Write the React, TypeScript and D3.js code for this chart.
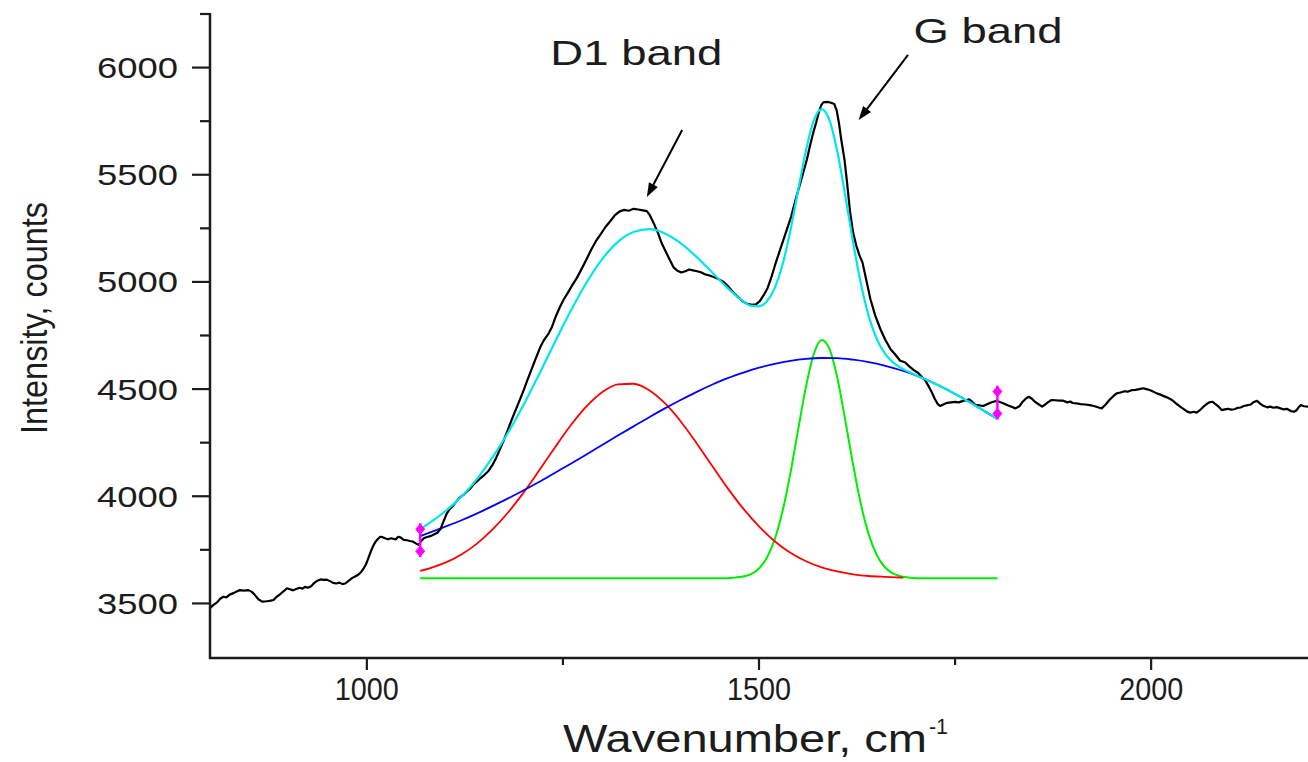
import React from "react";
import * as d3 from "d3";

// ---------- measured spectrum (black) ----------
const rawWavenumber = [
  800, 804, 809, 813, 817, 821, 825, 830, 834, 838, 843, 849, 853, 857, 862, 867, 872, 876, 881, 885,
  890, 894, 898, 902, 906, 910, 914, 918, 921, 925, 929, 933, 937, 941, 945, 949, 953, 957, 961, 965,
  969, 973, 977, 981, 985, 989, 993, 996, 999, 1002, 1005, 1008, 1011, 1014, 1017, 1020, 1024, 1027, 1031, 1034,
  1037, 1040, 1043, 1047, 1051, 1055, 1059, 1063, 1066, 1069, 1073, 1077, 1082, 1086, 1090, 1094, 1098, 1102, 1106, 1110,
  1114, 1118, 1123, 1127, 1132, 1136, 1140, 1145, 1150, 1155, 1160, 1165, 1170, 1175, 1180, 1185, 1190, 1195, 1200, 1205,
  1210, 1215, 1221, 1226, 1231, 1236, 1241, 1246, 1251, 1256, 1262, 1268, 1274, 1280, 1286, 1292, 1298, 1304, 1310, 1316,
  1322, 1328, 1334, 1340, 1346, 1352, 1357, 1361, 1366, 1371, 1376, 1381, 1386, 1391, 1396, 1401, 1406, 1411, 1416, 1421,
  1426, 1431, 1437, 1443, 1449, 1455, 1461, 1467, 1473, 1479, 1485, 1491, 1496, 1501, 1506, 1511, 1516, 1521, 1526, 1531,
  1536, 1541, 1546, 1551, 1556, 1561, 1565, 1569, 1573, 1576, 1579, 1582, 1587, 1592, 1596, 1599, 1602, 1605, 1609, 1612,
  1616, 1620, 1624, 1628, 1632, 1637, 1642, 1648, 1655, 1661, 1668, 1674, 1680, 1686, 1692, 1697, 1703, 1708, 1712, 1716,
  1720, 1724, 1728, 1731, 1735, 1740, 1745, 1750, 1755, 1760, 1764, 1768, 1772, 1776, 1781, 1786, 1790, 1795, 1799, 1803,
  1807, 1812, 1817, 1822, 1827, 1832, 1836, 1840, 1844, 1848, 1852, 1857, 1861, 1865, 1869, 1873, 1878, 1883, 1888, 1893,
  1897, 1900, 1905, 1910, 1916, 1922, 1928, 1933, 1937, 1942, 1947, 1952, 1956, 1961, 1966, 1970, 1975, 1980, 1985, 1990,
  1994, 1998, 2003, 2007, 2012, 2017, 2022, 2027, 2032, 2037, 2042, 2046, 2050, 2054, 2058, 2061, 2065, 2070, 2074, 2078,
  2082, 2086, 2090, 2094, 2098, 2102, 2106, 2110, 2114, 2118, 2122, 2127, 2131, 2135, 2139, 2143, 2148, 2152, 2156, 2160,
  2165, 2169, 2173, 2178, 2182, 2185, 2188, 2191, 2195, 2200,
];
const rawIntensity = [
  3478, 3492, 3505, 3522, 3531, 3528, 3541, 3548, 3556, 3562, 3560, 3562, 3555, 3540, 3518, 3508, 3510, 3512, 3516, 3531,
  3545, 3557, 3570, 3566, 3561, 3567, 3573, 3569, 3577, 3573, 3580, 3596, 3606, 3612, 3610, 3611, 3604, 3596, 3593, 3597,
  3590, 3594, 3606, 3618, 3626, 3634, 3648, 3664, 3683, 3712, 3742, 3768, 3788, 3800, 3811, 3809, 3803, 3799, 3804, 3801,
  3799, 3811, 3808, 3796, 3795, 3791, 3788, 3779, 3773, 3790, 3805, 3810, 3815, 3823, 3830, 3848, 3885, 3920, 3942, 3956,
  3975, 3992, 4006, 4020, 4037, 4055, 4068, 4085, 4100, 4118, 4145, 4180, 4222, 4265, 4312, 4360, 4405, 4450, 4495, 4545,
  4592, 4640, 4695, 4730, 4755, 4790, 4840, 4882, 4918, 4948, 4985, 5020, 5062, 5105, 5150, 5190, 5222, 5255, 5282, 5310,
  5328, 5336, 5332, 5341, 5338, 5334, 5330, 5310, 5272, 5230, 5180, 5142, 5105, 5068, 5052, 5044, 5050, 5058, 5054, 5050,
  5045, 5036, 5030, 5022, 5012, 5000, 4978, 4952, 4930, 4910, 4898, 4893, 4895, 4910, 4938, 4972, 5025, 5085, 5140, 5195,
  5250, 5305, 5375, 5440, 5505, 5570, 5635, 5694, 5745, 5787, 5822, 5838, 5840, 5836, 5830, 5801, 5740, 5661, 5570, 5474,
  5330, 5230, 5170, 5125, 5090, 5005, 4920, 4845, 4778, 4730, 4685, 4660, 4632, 4625, 4605, 4590, 4575, 4555, 4540, 4515,
  4488, 4455, 4430, 4421, 4428, 4436, 4438, 4440, 4438, 4445, 4448, 4452, 4440, 4426, 4424, 4421, 4428, 4436, 4441, 4445,
  4440, 4433, 4425, 4418, 4410, 4420, 4440, 4455, 4464, 4455, 4440, 4428, 4418, 4428, 4440, 4449, 4448, 4446, 4446, 4438,
  4442, 4435, 4433, 4430, 4428, 4425, 4420, 4414, 4410, 4428, 4450, 4468, 4480, 4484, 4490, 4488, 4495, 4496, 4500, 4504,
  4500, 4496, 4488, 4480, 4474, 4466, 4458, 4448, 4432, 4418, 4405, 4395, 4390, 4394, 4390, 4398, 4412, 4428, 4438, 4441,
  4430, 4418, 4402, 4405, 4408, 4404, 4406, 4412, 4414, 4421, 4424, 4428, 4440, 4445, 4432, 4422, 4415, 4418, 4413, 4416,
  4410, 4405, 4408, 4398, 4394, 4400, 4415, 4425, 4420, 4418,
];

// ---------- cumulative fit (cyan) ----------
const fitWavenumber = [
  1068, 1080, 1100, 1120, 1140, 1160, 1180, 1200, 1220, 1240, 1260, 1280, 1300, 1320, 1340, 1360, 1380, 1400, 1420, 1440,
  1460, 1470, 1480, 1490, 1500, 1510, 1520, 1530, 1540, 1550, 1560, 1570, 1580, 1590, 1600, 1610, 1620, 1630, 1640, 1650,
  1660, 1670, 1680, 1700, 1720, 1740, 1760, 1780, 1800, 1804,
];
const fitIntensity = [
  3848, 3876, 3930, 3996, 4079, 4180, 4296, 4428, 4572, 4721, 4865, 4996, 5106, 5187, 5233, 5246, 5226, 5181, 5118, 5045,
  4971, 4938, 4909, 4888, 4886, 4909, 4971, 5081, 5239, 5429, 5616, 5754, 5806, 5753, 5606, 5402, 5184, 4990, 4839, 4735,
  4669, 4627, 4601, 4565, 4533, 4497, 4457, 4414, 4370, 4362,
];

// ---------- broad background band (blue) ----------
const broadWavenumber = [
  1068, 1080, 1100, 1120, 1140, 1160, 1180, 1200, 1220, 1240, 1260, 1280, 1300, 1320, 1340, 1360, 1380, 1400, 1420, 1440,
  1460, 1480, 1500, 1520, 1540, 1560, 1580, 1600, 1620, 1640, 1660, 1680, 1700, 1720, 1740, 1760, 1780, 1800, 1804,
];
const broadIntensity = [
  3814, 3830, 3858, 3887, 3919, 3954, 3990, 4028, 4068, 4110, 4152, 4195, 4239, 4283, 4326, 4369, 4410, 4449, 4486, 4520,
  4551, 4577, 4600, 4618, 4632, 4641, 4645, 4644, 4637, 4626, 4610, 4589, 4564, 4533, 4497, 4457, 4414, 4370, 4362,
];

// ---------- D1 band (red) ----------
const d1Wavenumber = [
  1068, 1080, 1100, 1120, 1140, 1160, 1180, 1200, 1220, 1240, 1260, 1280, 1300, 1320, 1340, 1360, 1380, 1400, 1420, 1440,
  1460, 1480, 1500, 1520, 1540, 1560, 1580, 1600, 1620, 1640, 1660, 1680, 1684,
];
const d1Intensity = [
  3652, 3664, 3690, 3727, 3778, 3844, 3924, 4018, 4122, 4229, 4331, 4419, 4485, 4522, 4525, 4495, 4434, 4350, 4250, 4143,
  4038, 3942, 3859, 3790, 3736, 3697, 3668, 3649, 3636, 3628, 3624, 3621, 3620,
];

// ---------- G band (green) ----------
const gWavenumber = [
  1068, 1460, 1470, 1480, 1490, 1500, 1510, 1520, 1530, 1540, 1550, 1560, 1570, 1580, 1590, 1600, 1610, 1620, 1630, 1640,
  1650, 1660, 1670, 1680, 1690, 1700, 1804,
];
const gIntensity = [
  3618, 3618, 3621, 3626, 3637, 3663, 3713, 3799, 3930, 4107, 4313, 4514, 4665, 4729, 4686, 4549, 4355, 4147, 3962, 3821,
  3727, 3671, 3641, 3627, 3621, 3618, 3618,
];

// ---------- fit range markers, axes, annotations ----------
const rangeMarkerWavenumber = [1068, 1804];
const rangeMarkerIntensity = [3795, 4437];

const xMajorTicks = [1000, 1500, 2000];
const xMinorTicks = [1250, 1750];
const yMajorTicks = [3500, 4000, 4500, 5000, 5500, 6000];
const yMinorTicks = [3750, 4250, 4750, 5250, 5750, 6250];

const annotationLabels = ["D1 band", "G band"];
const annotationLabelAt = [
  [1234, 6012],
  [1697, 6115],
];
const annotationArrowFrom = [
  [1402, 5709],
  [1690, 6059],
];
const annotationArrowTo = [
  [1357, 5396],
  [1627, 5755],
];
const annotationLabelWidth = [172, 149];

const FONT = "'Liberation Sans', Arial, Helvetica, sans-serif";
const INK = "#1c1c1c";

export default function App() {
  const W = 1308;
  const H = 762;
  const x = d3.scaleLinear().domain([800, 2200]).range([210, 1308]);
  const y = d3.scaleLinear().domain([3250, 6250]).range([657, 14]);

  const mk = (xs: number[], ys: number[], curve: any) =>
    d3
      .line<number>()
      .x((_, i) => x(xs[i]))
      .y((v) => y(v))
      .curve(curve)(ys) || "";

  const blackPath = mk(rawWavenumber, rawIntensity, d3.curveLinear);
  const cyanPath = mk(fitWavenumber, fitIntensity, d3.curveMonotoneX);
  const bluePath = mk(broadWavenumber, broadIntensity, d3.curveMonotoneX);
  const redPath = mk(d1Wavenumber, d1Intensity, d3.curveMonotoneX);
  const greenPath = mk(gWavenumber, gIntensity, d3.curveMonotoneX);

  const arrowHead = (fx: number, fy: number, tx: number, ty: number) => {
    const ang = Math.atan2(ty - fy, tx - fx);
    const len = 14;
    const half = 5;
    const bx = tx - len * Math.cos(ang);
    const by = ty - len * Math.sin(ang);
    const px = -Math.sin(ang) * half;
    const py = Math.cos(ang) * half;
    return `M${tx},${ty}L${bx + px},${by + py}L${bx - px},${by - py}Z`;
  };

  return (
    <svg
      width={W}
      height={H}
      viewBox={`0 0 ${W} ${H}`}
      style={{ position: "absolute", left: 0, top: 0, background: "#fff" }}
    >
      <rect x={0} y={0} width={W} height={H} fill="#fff" />

      {/* curves */}
      <path d={greenPath} fill="none" stroke="#00ee00" strokeWidth={2} />
      <path d={redPath} fill="none" stroke="#ff0000" strokeWidth={1.8} />
      <path d={bluePath} fill="none" stroke="#0000ff" strokeWidth={1.8} />
      <path d={blackPath} fill="none" stroke="#000" strokeWidth={2.2} strokeLinejoin="round" />
      <path d={cyanPath} fill="none" stroke="#00e5ee" strokeWidth={2.2} />

      {/* fit range markers */}
      {rangeMarkerWavenumber.map((wn, i) => {
        const cx = x(wn);
        const cy = y(rangeMarkerIntensity[i]);
        return (
          <g key={"m" + i} fill="#ff00ff" stroke="#ff00ff">
            <line x1={cx} x2={cx} y1={cy - 17} y2={cy + 17} strokeWidth={2.5} />
            <path
              d={`M${cx},${cy - 16}L${cx + 4.5},${cy - 11}L${cx},${cy - 6}L${cx - 4.5},${cy - 11}Z`}
              strokeWidth={1}
            />
            <path
              d={`M${cx},${cy + 6}L${cx + 4.5},${cy + 11}L${cx},${cy + 16}L${cx - 4.5},${cy + 11}Z`}
              strokeWidth={1}
            />
          </g>
        );
      })}

      {/* axes */}
      <line x1={210} x2={210} y1={13} y2={659} stroke={INK} strokeWidth={2.5} />
      <line x1={209} x2={1308} y1={658} y2={658} stroke={INK} strokeWidth={2.5} />
      {yMajorTicks.map((v) => (
        <g key={"ym" + v}>
          <line x1={192} x2={210} y1={y(v)} y2={y(v)} stroke={INK} strokeWidth={2.2} />
          <text
            x={178}
            y={y(v) + 10.5}
            textAnchor="end"
            fontFamily={FONT}
            fontSize={30}
            fill={INK}
            textLength={81}
            lengthAdjust="spacingAndGlyphs"
          >
            {String(v)}
          </text>
        </g>
      ))}
      {yMinorTicks.map((v) => (
        <line key={"yn" + v} x1={200} x2={210} y1={y(v)} y2={y(v)} stroke={INK} strokeWidth={2.2} />
      ))}
      {xMajorTicks.map((v) => (
        <g key={"xm" + v}>
          <line x1={x(v)} x2={x(v)} y1={658} y2={670} stroke={INK} strokeWidth={2.2} />
          <text
            x={x(v)}
            y={700}
            textAnchor="middle"
            fontFamily={FONT}
            fontSize={31}
            fill={INK}
            textLength={64}
            lengthAdjust="spacingAndGlyphs"
          >
            {String(v)}
          </text>
        </g>
      ))}
      {xMinorTicks.map((v) => (
        <line key={"xn" + v} x1={x(v)} x2={x(v)} y1={658} y2={665} stroke={INK} strokeWidth={2.2} />
      ))}

      {/* axis titles */}
      <text
        x={563}
        y={752}
        fontFamily={FONT}
        fontSize={38}
        fill={INK}
        textLength={364}
        lengthAdjust="spacingAndGlyphs"
      >
        Wavenumber, cm
      </text>
      <text
        x={929}
        y={734}
        fontFamily={FONT}
        fontSize={22}
        fill={INK}
        textLength={19}
        lengthAdjust="spacingAndGlyphs"
      >
        -1
      </text>
      <text
        transform="translate(47,318) rotate(-90)"
        textAnchor="middle"
        fontFamily={FONT}
        fontSize={37}
        fill={INK}
        textLength={232}
        lengthAdjust="spacingAndGlyphs"
      >
        Intensity, counts
      </text>

      {/* annotations */}
      {annotationLabels.map((lab, i) => {
        const fx = x(annotationArrowFrom[i][0]);
        const fy = y(annotationArrowFrom[i][1]);
        const tx = x(annotationArrowTo[i][0]);
        const ty = y(annotationArrowTo[i][1]);
        const ang = Math.atan2(ty - fy, tx - fx);
        return (
          <g key={"a" + i}>
            <text
              x={x(annotationLabelAt[i][0])}
              y={y(annotationLabelAt[i][1])}
              fontFamily={FONT}
              fontSize={35}
              fill={INK}
              textLength={annotationLabelWidth[i]}
              lengthAdjust="spacingAndGlyphs"
            >
              {lab}
            </text>
            <line
              x1={fx}
              y1={fy}
              x2={tx - 10 * Math.cos(ang)}
              y2={ty - 10 * Math.sin(ang)}
              stroke="#000"
              strokeWidth={2}
            />
            <path d={arrowHead(fx, fy, tx, ty)} fill="#000" />
          </g>
        );
      })}
    </svg>
  );
}
